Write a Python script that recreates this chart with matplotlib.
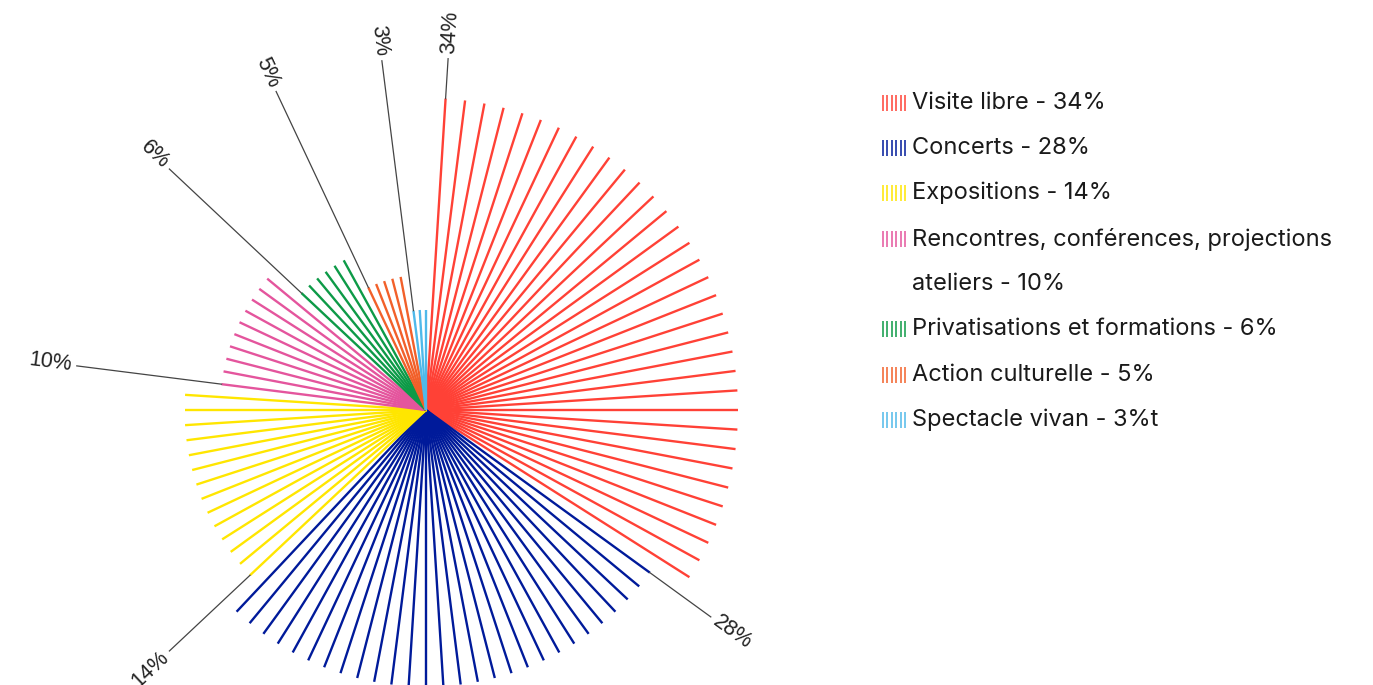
import numpy as np
import matplotlib
matplotlib.use("Agg")
import matplotlib.pyplot as plt

# -----------------------------
# Data
# -----------------------------
labels = [
    "Visite libre - 34%",
    "Concerts - 28%",
    "Expositions - 14%",
    "Rencontres, conférences, projections\nateliers - 10%",
    "Privatisations et formations - 6%",
    "Action culturelle - 5%",
    "Spectacle vivan - 3%t",
]
shares = [34, 28, 14, 10, 6, 5, 3]
colors = ["#ff4136", "#001a9a", "#ffe600", "#e4559d", "#0d9a47", "#f2602a", "#4fb9ea"]

# -----------------------------
# Figure layout (pixels)
# -----------------------------
W, H = 1373, 685
fig = plt.figure(figsize=(W / 100, H / 100), dpi=100)

cx, cy = 426, 410          # pie centre
rmax = 400                 # polar axis radius in px
ax = fig.add_axes([(cx - rmax) / W, (H - cy - rmax) / H, 2 * rmax / W, 2 * rmax / H],
                  projection="polar")
ax.set_theta_zero_location("N")
ax.set_theta_direction(-1)
ax.set_ylim(0, rmax)
ax.axis("off")

outer = 312
step = 35.3
leader_r = 352
label_r = 357
n_lines = sum(shares)      # one spoke per percent

start = 0
for i, (share, col) in enumerate(zip(shares, colors)):
    radius = outer - step * i
    ks = np.arange(start + 1, start + share + 1)
    thetas = np.deg2rad(ks * 360.0 / n_lines)
    for t in thetas:
        ax.plot([t, t], [0, radius], color=col, lw=1.7, solid_capstyle="butt", clip_on=False)

    # leader on the first spoke of the slice
    t0 = thetas[0]
    ax.plot([t0, t0], [radius, leader_r], color="#444444", lw=0.9, clip_on=False)

    deg = ks[0] * 360.0 / n_lines          # clockwise from north
    math_ang = 90 - deg
    if 0 <= deg <= 180:
        rot, ha = math_ang, "left"
    else:
        rot, ha = math_ang + 180, "right"
    ax.text(t0, label_r, f"{share}%", rotation=rot, rotation_mode="anchor",
            ha=ha, va="center", fontsize=15.5, color="#222222",
            family=["Liberation Sans", "DejaVu Sans"], clip_on=False)
    start += share

# -----------------------------
# Legend (drawn by hand)
# -----------------------------
lax = fig.add_axes([0, 0, 1, 1])
lax.set_xlim(0, W)
lax.set_ylim(H, 0)
lax.axis("off")

row_y = [103, 148, 193, 239, 329, 375, 420]
row_gap = 45
for y, lab, col in zip(row_y, labels, colors):
    for j in range(6):
        x = 883 + j * 4.4
        lax.plot([x, x], [y - 8, y + 8], color=col, lw=1.1, solid_capstyle="butt")
    for n, part in enumerate(lab.split("\n")):
        lax.text(912, y + n * row_gap, part, ha="left", va="center", fontsize=17,
                 color="#1a1a1a", family=["Inter", "DejaVu Sans"])

fig.savefig("out.png", dpi=100)
